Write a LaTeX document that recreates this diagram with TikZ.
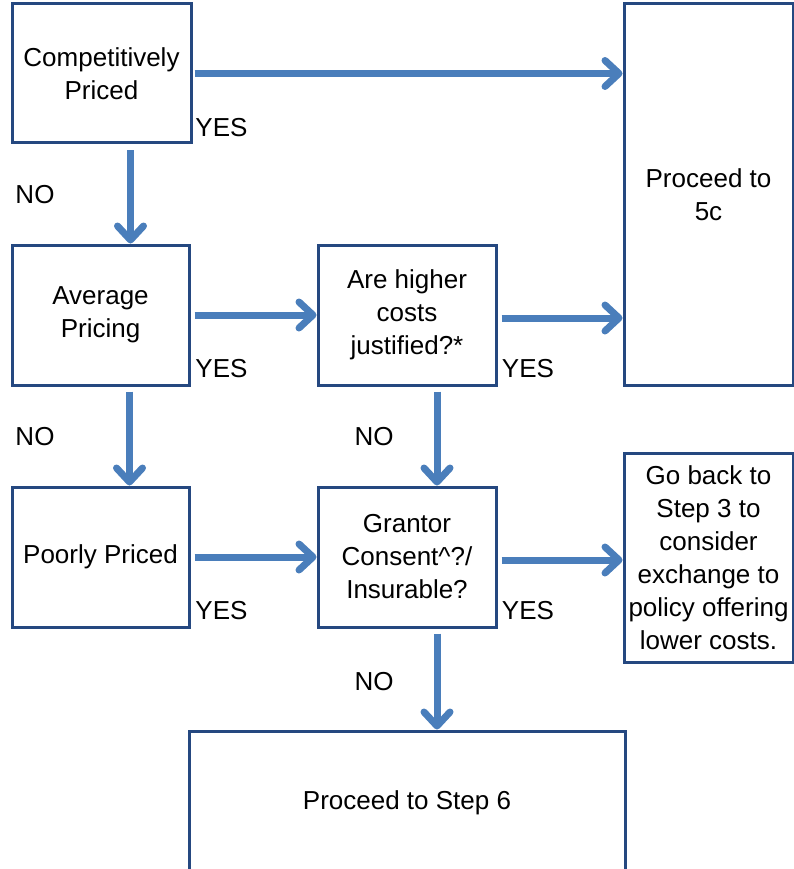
\documentclass[tikz,border=0pt]{standalone}
\usepackage{fontspec}
\setmainfont{Liberation Sans}
\usetikzlibrary{arrows.meta,calc}
\definecolor{boxline}{RGB}{37,72,128}
\definecolor{flow}{RGB}{74,126,187}
\begin{document}
\begin{tikzpicture}[x=1pt,y=-1pt,
  box/.style={draw=boxline,line width=3pt,fill=white,rectangle,inner sep=0pt,
    align=center,font=\fontsize{26}{33}\selectfont},
  arr/.style={draw=flow,line width=7pt,
    -{Straight Barb[length=14pt,width=26pt,round]}},
  lbl/.style={font=\fontsize{26}{30}\selectfont,inner sep=0pt}]
\clip (0,0) rectangle (794,869);
\fill[white] (0,0) rectangle (794,869);

% boxes
\node[box,minimum width=179pt,minimum height=139pt] (comp) at (101.5,73.5) {Competitively\\Priced};
\node[box,minimum width=169pt,minimum height=381pt] (five) at (708.5,194.5) {Proceed to\\5c};
\node[box,minimum width=177pt,minimum height=140pt] (avg) at (100.5,315) {Average\\Pricing};
\node[box,minimum width=178pt,minimum height=140pt] (just) at (407,315) {Are higher\\costs\\justified?*};
\node[box,minimum width=177pt,minimum height=140pt] (poor) at (100.5,557) {Poorly Priced};
\node[box,minimum width=178pt,minimum height=140pt] (gran) at (407,557) {Grantor\\Consent\textasciicircum?/\\Insurable?};
\node[box,minimum width=169pt,minimum height=209pt] (back) at (708.5,557.5) {Go back to\\Step 3 to\\consider\\exchange to\\policy offering\\lower costs.};
\node[box,minimum width=436pt,minimum height=144pt] (six) at (407,803) {Proceed to Step 6};

% connector end points
\coordinate (c1s) at ($(comp.east)+(2,0)$);
\coordinate (c2s) at ($(comp.south)+(29,6)$);
\coordinate (c3s) at ($(avg.east)+(4,0)$);
\coordinate (c4s) at ($(just.east)+(4,3)$);
\coordinate (c5s) at ($(avg.south)+(29,5)$);
\coordinate (c6s) at ($(just.south)+(30,5)$);
\coordinate (c7s) at ($(poor.east)+(4,0)$);
\coordinate (c8s) at ($(gran.east)+(4,3)$);
\coordinate (c9s) at ($(gran.south)+(30,5)$);

% connectors
\draw[arr] (c1s) -- (c1s -| five.west);
\draw[arr] (c2s) -- (c2s |- avg.north);
\draw[arr] (c3s) -- (c3s -| just.west);
\draw[arr] (c4s) -- (c4s -| five.west);
\draw[arr] (c5s) -- (c5s |- poor.north);
\draw[arr] (c6s) -- (c6s |- gran.north);
\draw[arr] (c7s) -- (c7s -| gran.west);
\draw[arr] (c8s) -- (c8s -| back.west);
\draw[arr] (c9s) -- (c9s |- six.north);

% labels
\node[lbl] (y1) at (221.5,128) {YES};
\node[lbl] (n1) at (35,195) {NO};
\node[lbl] (y2) at (221.5,369) {YES};
\node[lbl] (y3) at (528,369) {YES};
\node[lbl] (n2) at (35,437) {NO};
\node[lbl] (n3) at (374,437) {NO};
\node[lbl] (y4) at (221.5,611) {YES};
\node[lbl] (y5) at (528,611) {YES};
\node[lbl] (n4) at (374,682) {NO};
\end{tikzpicture}
\end{document}
